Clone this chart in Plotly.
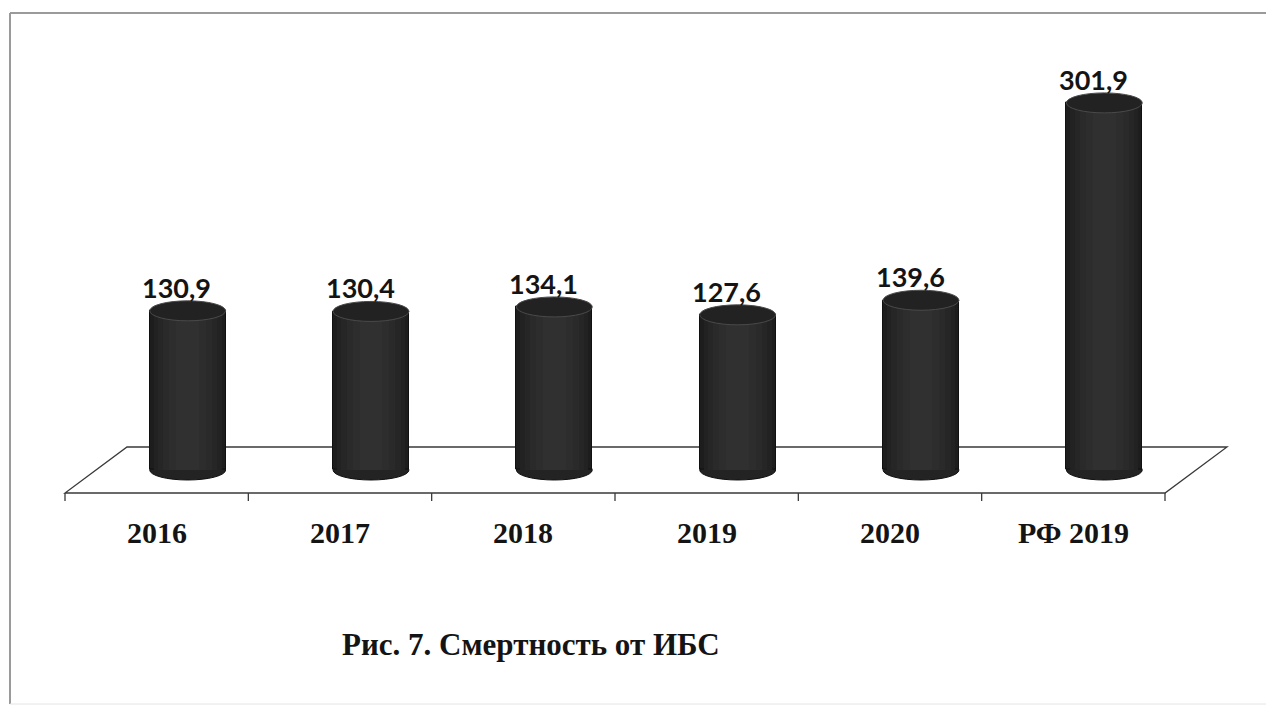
import plotly.graph_objects as go

# Mortality from coronary heart disease (ИБС), per 100 000
categories = ["2016", "2017", "2018", "2019", "2020", "РФ 2019"]
values = [130.9, 130.4, 134.1, 127.6, 139.6, 301.9]
caption = "Рис. 7. Смертность от ИБС"

W, H = 1266, 706

# pixel geometry of the pseudo-3D plot
BASE_PX = 470          # pixel row of value 0 (middle of the floor depth)
PX_PER_UNIT = 1.216    # vertical scale
X_LEFT, X_RIGHT = 96, 1196   # back-shifted category band
DEPTH_DX, DEPTH_DY = 31, 23  # half depth offset of the floor
Y_MIN, Y_MAX = -30, 340
R_X = 0.207            # cylinder half width in category units
R_Y_PX = 10            # half height of the cylinder caps in pixels


def px(xp):
    return xp / W


def py(yp):
    return 1 - yp / H


y_dom = [py(BASE_PX - Y_MIN * PX_PER_UNIT), py(BASE_PX - Y_MAX * PX_PER_UNIT)]
x_dom = [px(X_LEFT), px(X_RIGHT)]
r_y = R_Y_PX / PX_PER_UNIT
n = len(categories)
xs = list(range(n))

fig = go.Figure()

# cylinder bodies: nested bars of slowly lightening grey give a rounded shading
shade_steps = [(1.00, "#1d1d1d"), (0.90, "#222222"), (0.78, "#262626"),
               (0.64, "#2a2a2a"), (0.48, "#2d2d2d"), (0.30, "#303030")]
for frac, col in shade_steps:
    fig.add_trace(go.Bar(
        x=xs, y=values, base=0, width=2 * R_X * frac,
        marker=dict(color=col,
                    line=dict(color="#101010", width=1 if frac == 1.0 else 0)),
        hoverinfo="skip", showlegend=False, cliponaxis=False,
    ))

shapes = []

# outer frame
shapes.append(dict(type="line", xref="paper", yref="paper",
                   x0=px(10), x1=px(1266), y0=py(13), y1=py(13),
                   line=dict(color="#9a9a9a", width=2), layer="below"))
shapes.append(dict(type="line", xref="paper", yref="paper",
                   x0=px(10), x1=px(10), y0=py(13), y1=py(704),
                   line=dict(color="#9a9a9a", width=2), layer="below"))
shapes.append(dict(type="line", xref="paper", yref="paper",
                   x0=px(10), x1=px(1266), y0=py(704), y1=py(704),
                   line=dict(color="#e4e4e4", width=1), layer="below"))

# floor parallelogram
fl, fr = X_LEFT - DEPTH_DX, X_RIGHT - DEPTH_DX
bl, br = X_LEFT + DEPTH_DX, X_RIGHT + DEPTH_DX
fy, by = BASE_PX + DEPTH_DY, BASE_PX - DEPTH_DY
floor_path = (f"M {px(fl)},{py(fy)} L {px(fr)},{py(fy)} "
              f"L {px(br)},{py(by)} L {px(bl)},{py(by)} Z")
shapes.append(dict(type="path", xref="paper", yref="paper", path=floor_path,
                   fillcolor="white", line=dict(color="#3a3a3a", width=1.3),
                   layer="below"))

# category boundary ticks under the front edge
step = (fr - fl) / n
for k in range(n + 1):
    xt = fl + k * step
    shapes.append(dict(type="line", xref="paper", yref="paper",
                       x0=px(xt), x1=px(xt), y0=py(fy), y1=py(fy + 8),
                       line=dict(color="#3a3a3a", width=1.3), layer="below"))

# bottom caps of cylinders
for i, v in enumerate(values):
    shapes.append(dict(type="circle", xref="x", yref="y",
                       x0=i - R_X, x1=i + R_X, y0=-r_y, y1=r_y,
                       fillcolor="#232323", line=dict(color="#101010", width=1),
                       layer="below"))

# top caps of cylinders
for i, v in enumerate(values):
    shapes.append(dict(type="circle", xref="x", yref="y",
                       x0=i - R_X, x1=i + R_X, y0=v - r_y, y1=v + r_y,
                       fillcolor="#222222", line=dict(color="#4a4a4a", width=1),
                       layer="above"))

annotations = []
# value labels
for i, v in enumerate(values):
    annotations.append(dict(
        x=i, y=v, xref="x", yref="y", xshift=-11, yshift=5,
        text=f"{v:.1f}".replace(".", ","), showarrow=False,
        xanchor="center", yanchor="bottom",
        font=dict(family="Lato", size=27, color="#141414", weight="bold"),
    ))

# category labels along the front edge
for i, c in enumerate(categories):
    annotations.append(dict(
        x=i, y=py(fy + 39), xref="x", yref="paper", xshift=-DEPTH_DX,
        text=f"<b>{c}</b>", showarrow=False,
        xanchor="center", yanchor="middle",
        font=dict(family="Liberation Serif", size=30, color="#141414"),
    ))

# figure caption
annotations.append(dict(
    x=px(531), y=py(644), xref="paper", yref="paper",
    text=f"<b>{caption}</b>", showarrow=False,
    xanchor="center", yanchor="middle",
    font=dict(family="Liberation Serif", size=31, color="#141414"),
))

fig.update_layout(
    width=W, height=H,
    margin=dict(l=0, r=0, t=0, b=0),
    paper_bgcolor="white", plot_bgcolor="rgba(0,0,0,0)",
    barmode="overlay", bargap=0,
    xaxis=dict(domain=x_dom, range=[-0.5, n - 0.5], visible=False, fixedrange=True),
    yaxis=dict(domain=y_dom, range=[Y_MIN, Y_MAX], visible=False, fixedrange=True),
    shapes=shapes, annotations=annotations,
    showlegend=False,
)

fig.write_html("out.html")
